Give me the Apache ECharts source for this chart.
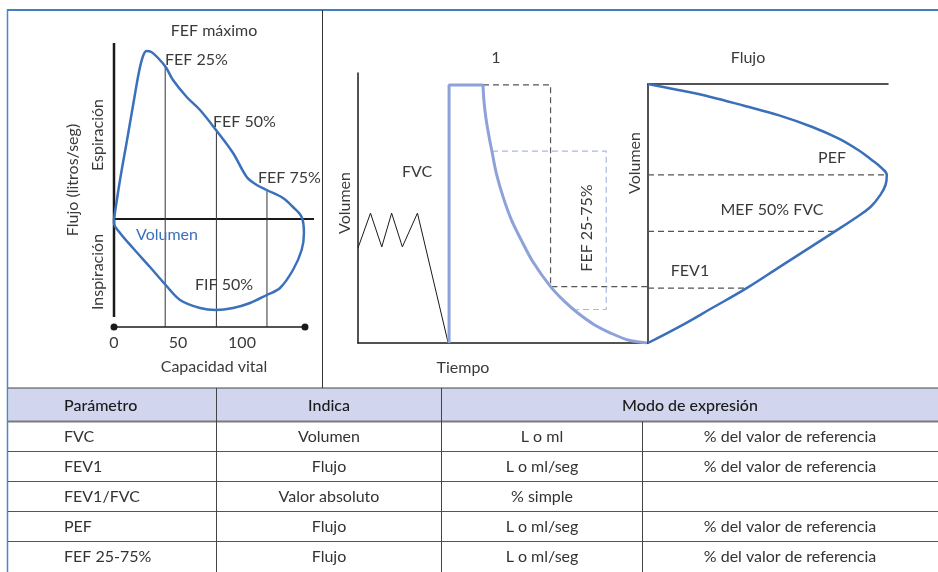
<!DOCTYPE html>
<html><head><meta charset="utf-8">
<script src="https://cdn.jsdelivr.net/npm/echarts@6/dist/echarts.min.js"></script>
<style>html,body{margin:0;padding:0;background:#fff}#chart{width:938px;height:572px}</style>
</head><body><div id="chart"></div>
<script>
// ---------- Panel 1: flow-volume loop ----------
const loopVolume = [0,4.7,10.2,15.6,19.5,22.7,25.5,29.5,34.4,40.4,46.1,56.8,67.2,79.7,93.0,103.7,111.5,119.3,132.0,139.8,146.6,148.4,146.6,139.8,129.7,119.3,106.3,93.0,79.7,67.2,51.6,40.4,28.1,14.8,4.7,0,0];
const loopFlow   = [0,1.95,3.95,5.95,7.35,8.15,8.4,8.34,8.05,7.6,6.95,6.1,5.45,4.45,3.3,2.1,1.7,1.45,1.05,0.6,0.1,-0.7,-1.55,-2.55,-3.45,-3.8,-4.2,-4.45,-4.55,-4.45,-4.05,-3.3,-2.4,-1.45,-0.7,-0.2,0];
const fefVolume  = [40, 80, 119.5];
const fefFlow    = [7.6, 4.45, 1.45];
const capacityTicks = [0, 50, 100];
const loopAxisTop = 8.8, loopAxisBottom = -4.9, loopBaseFlow = -5.4, loopZeroEnd = 156.25, loopBaseEnd = 149.2;

// ---------- Panel 2: volume-time ----------
const tidalTime = [0,0.43,0.82,1.16,1.53,2.05,3.11];
const tidalVol  = [3.52,4.81,3.56,4.81,3.56,4.81,0];
const fvcStepTime = [3.14,3.14,4.31];
const fvcStepVol  = [0,9.56,9.56];
const fvcTime = [4.31,4.34,4.42,4.54,4.62,4.77,5.0,5.29,5.63,6.03,6.64,7.13,7.59,8.16,8.73,9.31,9.97];
const fvcVol  = [9.56,9.0,8.26,7.52,7.09,6.28,5.42,4.56,3.81,3.01,2.09,1.53,1.10,0.67,0.36,0.11,0];
const fev1Time = [4.31,6.64,6.64,10];
const fev1Vol  = [9.56,9.56,2.09,2.09];
const fef2575Time = [4.62,8.56,8.56,7.53];
const fef2575Vol  = [7.11,7.11,1.24,1.24];

// ---------- Panel 3: flow-volume (expiratory) ----------
const expFlow = [0,1.26,2.65,4.04,5.43,6.82,7.93,8.76,9.32,9.74,9.95,9.90,9.69,9.27,8.58,7.79,6.82,5.52,4.11,2.67,1.33,0];
const expVol  = [10,9.77,9.49,9.15,8.80,8.35,7.90,7.45,7.07,6.75,6.49,6.11,5.73,5.25,4.79,4.31,3.73,2.96,2.12,1.35,0.64,0];
const markerNames = ['PEF','MEF 50% FVC','FEV1'];
const markerFlow  = [9.95, 7.79, 4.11];
const markerVol   = [6.49, 4.31, 2.12];

// ---------- Table ----------
const tableHeader = ['Parámetro','Indica','Modo de expresión'];
const paramNames  = ['FVC','FEV1','FEV1/FVC','PEF','FEF 25-75%'];
const paramIndica = ['Volumen','Flujo','Valor absoluto','Flujo','Flujo'];
const paramUnit   = ['L o ml','L o ml/seg','% simple','L o ml/seg','L o ml/seg'];
const paramRef    = ['% del valor de referencia','% del valor de referencia','','% del valor de referencia','% del valor de referencia'];

const FONT = 'Lato, "Open Sans", sans-serif';
const TXT = '#3a3a3a';
const zip = (a, b) => a.map((v, i) => [v, b[i]]);

function lineSeries(g, data, color, width, extra) {
  return Object.assign({
    type: 'line', xAxisIndex: g, yAxisIndex: g, data: data,
    symbol: 'none', silent: true, animation: false,
    lineStyle: { color: color, width: width }
  }, extra || {});
}
const dashed = (c) => ({ lineStyle: { color: c, width: 1.2, type: [6, 4] } });

const series = [];
// panel 1
series.push(lineSeries(0, [[0, loopAxisTop], [0, loopAxisBottom]], '#1a1a1a', 2.5));
series.push(lineSeries(0, [[0, 0], [loopZeroEnd, 0]], '#1a1a1a', 2));
series.push(lineSeries(0, [[0, loopBaseFlow], [loopBaseEnd, loopBaseFlow]], '#1a1a1a', 1.5,
  { symbol: 'circle', symbolSize: 7, showSymbol: true, itemStyle: { color: '#1a1a1a' } }));
fefVolume.forEach((v, i) => series.push(lineSeries(0, [[v, fefFlow[i]], [v, loopBaseFlow]], '#333', 1)));
series.push(lineSeries(0, zip(loopVolume, loopFlow), '#3b70bb', 2.5, { smooth: 0.35 }));
// panel 2
series.push(lineSeries(1, zip(tidalTime, tidalVol), '#1a1a1a', 1));
series.push(lineSeries(1, zip(fev1Time, fev1Vol), '#555', 1.2, dashed('#555')));
series.push(lineSeries(1, zip(fef2575Time, fef2575Vol), '#a9b8e3', 1.2, dashed('#a9b8e3')));
series.push(lineSeries(1, zip(fvcStepTime, fvcStepVol), '#8ea2da', 3));
series.push(lineSeries(1, zip(fvcTime, fvcVol), '#8ea2da', 3, { smooth: 0.3 }));
// panel 3
markerFlow.forEach((f, i) => series.push(lineSeries(2, [[0, markerVol[i]], [f, markerVol[i]]], '#555', 1.2, dashed('#555'))));
series.push(lineSeries(2, zip(expFlow, expVol), '#3a6fba', 2.5, { smooth: 0.4 }));

function T(text, x, y, o) {
  o = o || {};
  return {
    type: 'text', x: x, y: y, rotation: o.rot || 0, z: 20, silent: true,
    style: {
      text: text, fill: o.color || TXT,
      font: (o.weight || 'normal') + ' ' + (o.size || 16) + 'px ' + FONT,
      align: o.align || 'center', textAlign: o.align || 'center',
      verticalAlign: 'middle', textVerticalAlign: 'middle'
    }
  };
}
function L(x1, y1, x2, y2, color, w) {
  return { type: 'line', z: 15, silent: true, shape: { x1: x1, y1: y1, x2: x2, y2: y2 }, style: { stroke: color, lineWidth: w } };
}

const R = Math.PI / 2;
const graphics = [];
// frame
graphics.push(L(7.5, 10, 938, 10, '#3f7fc2', 2));
graphics.push(L(7.5, 9, 7.5, 572, '#4a88c8', 1.5));
graphics.push(L(322.5, 10, 322.5, 388, '#333', 1));
// panel 1 texts
graphics.push(T('FEF máximo', 214, 31));
graphics.push(T('FEF 25%', 165, 60, { align: 'left' }));
graphics.push(T('FEF 50%', 213, 122, { align: 'left' }));
graphics.push(T('FEF 75%', 258, 178, { align: 'left' }));
graphics.push(T('Volumen', 136, 235, { align: 'left', color: '#3b70bb' }));
graphics.push(T('FIF 50%', 195, 285, { align: 'left' }));
graphics.push(T('Flujo (litros/seg)', 73, 180, { rot: R }));
graphics.push(T('Espiración', 98, 135, { rot: R }));
graphics.push(T('Inspiración', 98, 272, { rot: R }));
// panel 2 texts
graphics.push(T('1', 496, 58));
graphics.push(T('FVC', 417, 172));
graphics.push(T('Volumen', 345, 203, { rot: R }));
graphics.push(T('Tiempo', 463, 368));
graphics.push(T('FEF 25-75%', 587, 228, { rot: R }));
// panel 3 texts
graphics.push(T('Flujo', 748, 58));
graphics.push(T('Volumen', 635, 163, { rot: R }));
const markerLabelPos = [[832, 158], [772, 210], [690, 271]];
markerNames.forEach((n, i) => graphics.push(T(n, markerLabelPos[i][0], markerLabelPos[i][1])));

// table
const tTop = 388, hBot = 421.5, rowH = 29.9;
graphics.push({ type: 'rect', z: 5, silent: true, shape: { x: 8.5, y: tTop, width: 930, height: hBot - tTop }, style: { fill: '#d1d6ee' } });
graphics.push(L(8, tTop, 938, tTop, '#444', 1));
graphics.push(L(8, hBot, 938, hBot, '#7a7a7a', 2));
for (let i = 1; i < paramNames.length; i++) {
  const y = Math.round(hBot + i * rowH) + 0.5;
  graphics.push(L(8, y, 938, y, '#555', 1));
}
graphics.push(L(216.5, tTop, 216.5, 572, '#444', 1));
graphics.push(L(441.5, tTop, 441.5, 572, '#444', 1));
graphics.push(L(642.5, hBot, 642.5, 572, '#444', 1));
const hy = (tTop + hBot) / 2 + 1;
graphics.push(T(tableHeader[0], 64, hy, { align: 'left', color: '#1a1a1a', weight: '500' }));
graphics.push(T(tableHeader[1], 329, hy, { color: '#1a1a1a', weight: '500' }));
graphics.push(T(tableHeader[2], 690, hy, { color: '#1a1a1a', weight: '500' }));
paramNames.forEach((p, i) => {
  const y = hBot + rowH * (i + 0.5) + 0.5;
  graphics.push(T(p, 64, y, { align: 'left', color: '#333' }));
  graphics.push(T(paramIndica[i], 329, y, { color: '#333' }));
  graphics.push(T(paramUnit[i], 542, y, { color: '#333' }));
  if (paramRef[i]) graphics.push(T(paramRef[i], 790, y, { color: '#333' }));
});

const hiddenAxis = {
  type: 'value', axisLine: { show: false }, axisTick: { show: false },
  axisLabel: { show: false }, splitLine: { show: false }
};
const shownLine = { show: true, onZero: false, lineStyle: { color: '#1a1a1a', width: 1.5 } };

const option = {
  animation: false,
  backgroundColor: '#fff',
  grid: [
    { left: 114, top: 39, width: 200, height: 290, outerBoundsMode: 'none', containLabel: false },
    { left: 358, top: 73, width: 290, height: 270, outerBoundsMode: 'none', containLabel: false },
    { left: 648, top: 84, width: 240, height: 259, outerBoundsMode: 'none', containLabel: false }
  ],
  xAxis: [
    Object.assign({}, hiddenAxis, {
      gridIndex: 0, min: 0, max: loopZeroEnd, interval: 50,
      axisLabel: { show: true, margin: 6, color: TXT, fontSize: 16, fontFamily: FONT,
        formatter: v => capacityTicks.indexOf(v) >= 0 ? String(v) : '' },
      name: 'Capacidad vital', nameLocation: 'middle', nameGap: 30,
      nameTextStyle: { color: TXT, fontSize: 16, fontFamily: FONT }
    }),
    Object.assign({}, hiddenAxis, { gridIndex: 1, min: 0, max: 10, axisLine: shownLine }),
    Object.assign({}, hiddenAxis, { gridIndex: 2, min: 0, max: 10, position: 'top', axisLine: shownLine })
  ],
  yAxis: [
    Object.assign({}, hiddenAxis, { gridIndex: 0, min: -5.5, max: 9 }),
    Object.assign({}, hiddenAxis, { gridIndex: 1, min: 0, max: 10, axisLine: shownLine }),
    Object.assign({}, hiddenAxis, { gridIndex: 2, min: 0, max: 10, axisLine: shownLine })
  ],
  series: series,
  graphic: graphics
};
const chart = echarts.init(document.getElementById('chart'), null, { renderer: 'canvas' });
chart.setOption(option);
</script>
</body></html>
